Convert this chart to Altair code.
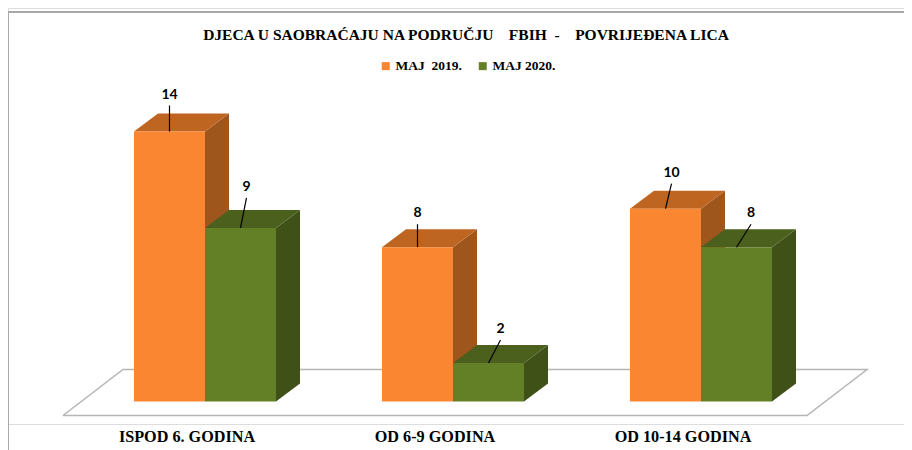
import altair as alt
import pandas as pd

categories = ["ISPOD 6. GODINA", "OD 6-9 GODINA", "OD 10-14 GODINA"]
series_names = ["MAJ\u00a0\u00a02019.", "MAJ 2020."]
values_2019 = [14, 8, 10]
values_2020 = [9, 2, 8]
colors_front = ["#FB8631", "#648027"]
colors_top = ["#BE6522", "#4B601C"]
colors_side = ["#9F561D", "#3F5116"]
leader_tops = [[(0, 26), (6, 30)], [(0, 23), (12, 23)], [(6, 25), (14.5, 23)]]

# Layout constants: pixels per unit on each scale
PX_X = 248.0
PX_Y = 270.0 / 14.0
W, H = 896, 416
X0 = (8 - 187) / PX_X
X1 = X0 + W / PX_X
Y0 = (401.5 - 424) / PX_Y
Y1 = Y0 + H / PX_Y
BAR = 71 / PX_X
DX = 24 / PX_X
DY = 18 / PX_Y
FIRST = -53 / PX_X

front, top, side, leaders, labels = [], [], [], [], []
for s, (name, vals) in enumerate(zip(series_names, [values_2019, values_2020])):
    for i, v in enumerate(vals):
        a = i + FIRST + s * BAR
        b = a + BAR
        front.append(dict(series=name, a=a, b=b, v=v, o=s))
        key = f"{s}-{i}"
        for x, y, y2 in [(a, v, v), (a + DX, v, v + DY), (b, v, v + DY), (b + DX, v + DY, v + DY)]:
            top.append(dict(key=key, x=x, y=y, y2=y2))
        for x, y, y2 in [(b, 0, v), (b + DX, DY, v + DY)]:
            side.append(dict(key=key, x=x, y=y, y2=y2))
        bx = (a + b) / 2
        ox, oy = leader_tops[i][s]
        lx = bx + ox / PX_X
        ly = v + oy / PX_Y
        leaders.append(dict(key=key, x=bx, y=v, x2=lx, y2=ly))
        labels.append(dict(x=lx, y=ly + 11 / PX_Y, t=str(v)))

x_scale = alt.Scale(domain=[X0, X1], nice=False, zero=False)
y_scale = alt.Scale(domain=[Y0, Y1], nice=False, zero=False)
Y = alt.Y("y:Q", scale=y_scale, title=None, axis=None)


def X(field):
    return alt.X(field, scale=x_scale, title=None, axis=None)


floor_pts = [(-124, -14), (620, -14), (680, 32), (-64, 32), (-124, -14)]
floor = pd.DataFrame([dict(x=p[0] / PX_X, y=p[1] / PX_Y, o=k) for k, p in enumerate(floor_pts)])
cat_df = pd.DataFrame({"x": [0, 1, 2], "y": [-35 / PX_Y] * 3, "t": categories})

FRAME_TOP = Y1 - 4 / PX_Y
frame_layer = alt.Chart(pd.DataFrame({
    "x": [X0, X0], "x2": [X0, X1], "y": [Y0 - 26 / PX_Y, FRAME_TOP], "y2": [FRAME_TOP, FRAME_TOP]
})).mark_rule(color="#A9A9A9", strokeWidth=2).encode(x=X("x:Q"), x2="x2:Q", y=Y, y2="y2:Q")

floor_layer = alt.Chart(floor).mark_line(color="#B5B5B5", strokeWidth=1.5).encode(x=X("x:Q"), y=Y, order="o:O")

layers = [frame_layer, floor_layer]
for s, name in enumerate(series_names):
    sk = f"{s}-"
    sd = pd.DataFrame([d for d in side if d["key"].startswith(sk)])
    tp = pd.DataFrame([d for d in top if d["key"].startswith(sk)])
    layers.append(alt.Chart(sd).mark_area(color=colors_side[s], orient="vertical").encode(
        x=X("x:Q"), y=Y, y2="y2:Q", detail="key:N"))
    layers.append(alt.Chart(tp).mark_area(color=colors_top[s], orient="vertical").encode(
        x=X("x:Q"), y=Y, y2="y2:Q", detail="key:N"))
    layers.append(alt.Chart(pd.DataFrame([d for d in front if d["series"] == name])).mark_rect().encode(
        x=X("a:Q"), x2="b:Q",
        y=alt.Y("v:Q", scale=y_scale, axis=None),
        y2=alt.datum(0),
        color=alt.Color("series:N", scale=alt.Scale(domain=series_names, range=colors_front),
                        legend=alt.Legend(title=None, orient="none", legendX=371, legendY=51, direction="horizontal",
                                          symbolType="square", symbolSize=64, symbolStrokeWidth=0, columnPadding=14,
                                          labelFont="Liberation Serif", labelFontWeight="bold", labelFontSize=13.5,
                                          labelColor="#000000", labelOffset=3))))

layers.append(alt.Chart(pd.DataFrame(leaders)).mark_rule(color="#000000", strokeWidth=1.2).encode(
    x=X("x:Q"), x2="x2:Q", y=Y, y2="y2:Q"))
layers.append(alt.Chart(pd.DataFrame(labels)).mark_text(font="Lato", fontWeight="bold", fontSize=14, color="#000000").encode(
    x=X("x:Q"), y=Y, text="t:N"))
layers.append(alt.Chart(cat_df).mark_text(font="Liberation Serif", fontWeight="bold", fontSize=16.2, color="#000000").encode(
    x=X("x:Q"), y=Y, text="t:N"))

chart = alt.layer(*layers).properties(
    width=W, height=H,
    autosize=alt.AutoSizeParams(type="none"),
    padding={"left": 0, "top": 0, "right": 0, "bottom": 26},
    title=alt.TitleParams("DJECA U SAOBRAĆAJU NA PODRUČJU\u00a0\u00a0\u00a0\u00a0FBIH\u00a0\u00a0-\u00a0\u00a0\u00a0\u00a0POVRIJEĐENA LICA",
                          font="Liberation Serif", fontWeight="bold", fontSize=15.5, color="#000000",
                          anchor="middle", dx=10, dy=35, offset=0)
).configure_view(stroke=None).configure(background="#FFFFFF")

chart.save("out.html", embed_options={"renderer": "svg", "actions": False})
